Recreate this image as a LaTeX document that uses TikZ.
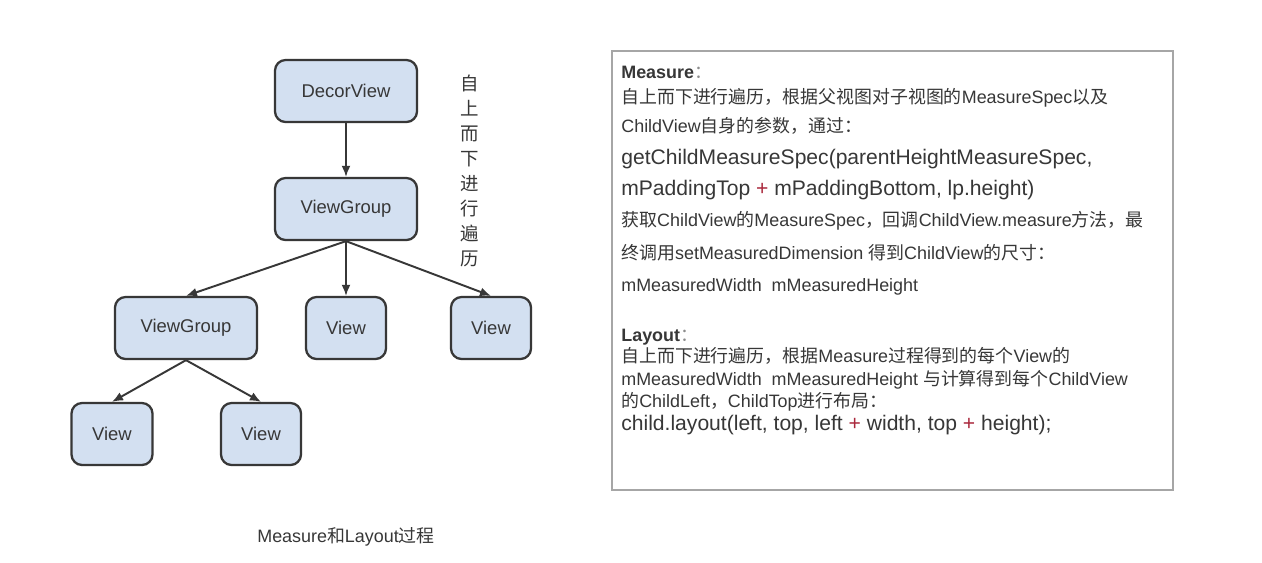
\documentclass[tikz,border=0pt]{standalone}
\usepackage{fontspec}
\setmainfont{Liberation Sans}
\newfontfamily\cjk{Noto Sans CJK SC}
\usetikzlibrary{arrows.meta,positioning}
\definecolor{boxfill}{RGB}{211,224,241}
\definecolor{ink}{RGB}{55,55,55}
\definecolor{plusred}{RGB}{170,40,60}
\newcommand{\zh}[1]{{\cjk #1}}
\tikzset{vbox/.style={draw=ink,line width=1.3pt,rounded corners=6pt,fill=boxfill,minimum height=62*0.02cm,font=\fontsize{10.5}{12}\selectfont,text=ink},
edge/.style={-{Latex[length=2.2mm,width=1.8mm]},line width=1.1pt,draw=ink},
txt/.style={anchor=base west,inner sep=0pt,font=\fontsize{10.2}{12}\selectfont,text=ink},
code/.style={txt,font=\fontsize{12}{14}\selectfont}}

\begin{document}
\begin{tikzpicture}[x=0.02cm,y=-0.02cm]
\useasboundingbox[fill=white] (0,0) rectangle (1262,562);
% tree
\node[vbox,minimum width=142*0.02cm] (decor) at (346,91) {DecorView};
\node[vbox,minimum width=142*0.02cm] (vg) at (346,209) {ViewGroup};
\node[vbox,minimum width=142*0.02cm] (vgl) at (186,328) {ViewGroup};
\node[vbox,minimum width=80*0.02cm] (vm) at (346,328) {View};
\node[vbox,minimum width=80*0.02cm] (vr) at (491,328) {View};
\node[vbox,minimum width=81*0.02cm] (vbl) at (112,434) {View};
\node[vbox,minimum width=80*0.02cm] (vbr) at (261,434) {View};
\draw[edge] (decor) -- (vg);
\foreach \c in {vgl,vm,vr}{\draw[edge] (vg.south) -- (\c.north);}
\foreach \c in {vbl,vbr}{\draw[edge] (vgl.south) -- (\c.north);}
\node[align=center,text=ink,font=\cjk\fontsize{10.5}{14.2}\selectfont] (dir) at (470,171) {自\\上\\而\\下\\进\\行\\遍\\历};
\node[text=ink,font=\fontsize{10.2}{12}\selectfont] (cap) at (346,537) {Measure\zh{和}Layout\zh{过程}};
% notes
\node[draw=black!35,line width=1pt,minimum width=561*0.02cm,minimum height=439*0.02cm,anchor=north west] (notes) at (611,50) {};
\node[txt] (m1) at (621,78) {\textbf{Measure}\textcolor{black!45}{\zh{：}}};
\node[txt] (m2) at (621,103) {\zh{自上而下进行遍历，根据父视图对子视图的}MeasureSpec\zh{以及}};
\node[txt] (m3) at (621,132) {ChildView\zh{自身的参数，通过：}};
\node[code] (m4) at (621,164) {getChildMeasureSpec(parentHeightMeasureSpec,};
\node[code] (m5) at (621,195) {mPaddingTop \textcolor{plusred}{+} mPaddingBottom, lp.height)};
\node[txt] (m6) at (621,226) {\zh{获取}ChildView\zh{的}MeasureSpec\zh{，回调}ChildView.measure\zh{方法，最}};
\node[txt] (m7) at (621,259) {\zh{终调用}setMeasuredDimension \zh{得到}ChildView\zh{的尺寸：}};
\node[txt] (m8) at (621,291) {mMeasuredWidth\ \ mMeasuredHeight};
\node[txt] (l1) at (621,341) {\textbf{Layout}\textcolor{black!45}{\zh{：}}};
\node[txt] (l2) at (621,362) {\zh{自上而下进行遍历，根据}Measure\zh{过程得到的每个}View\zh{的}};
\node[txt] (l3) at (621,385) {mMeasuredWidth\ \ mMeasuredHeight \zh{与计算得到每个}ChildView};
\node[txt] (l4) at (621,407) {\zh{的}ChildLeft\zh{，}ChildTop\zh{进行布局：}};
\node[code] (l5) at (621,430) {child.layout(left, top, left \textcolor{plusred}{+} width, top \textcolor{plusred}{+} height);};
\end{tikzpicture}
\end{document}
